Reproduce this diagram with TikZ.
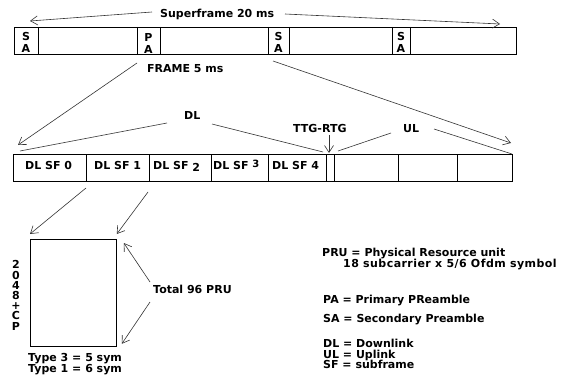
\documentclass[tikz,border=0pt]{standalone}
\usepackage{fontspec}
\setmainfont{DejaVu Sans}
\usetikzlibrary{arrows.meta,positioning}

\begin{document}
\begin{tikzpicture}[x=1pt,y=-1pt,
  txt/.style={font=\bfseries\fontsize{11}{11}\selectfont,inner sep=0pt,anchor=base west},
  stack/.style={font=\bfseries\fontsize{11}{12}\selectfont,inner sep=0pt,align=center},
  thin/.style={line width=0.6pt,black!80},
  arr/.style={thin,-{Straight Barb[length=7pt,width=9pt,line width=0.6pt]}},
  frm/.style={line width=0.8pt}]
  \useasboundingbox (0,0) rectangle (578,377);

  % superframe
  \draw[frm] (14,27) rectangle (516,54);
  \foreach \x in {38,137,160,268,289,392,410}
    \draw[frm] (\x,27) -- (\x,54);
  \node[stack] (sa1) at (26,42) {S\\A};
  \node[stack] (pa)  at (148.5,43) {P\\A};
  \node[stack] (sa2) at (278.5,42) {S\\A};
  \node[stack] (sa3) at (401,42) {S\\A};
  \node[txt] (sftxt) at (160,18) {Superframe 20 ms};
  \coordinate (sfl0) at (152,12); \coordinate (sfl1) at (30,21);
  \coordinate (sfr0) at (285,14); \coordinate (sfr1) at (500,24);
  \draw[arr] (sfl0) -- (sfl1);
  \draw[arr] (sfr0) -- (sfr1);

  % one frame
  \node[txt] (frtxt) at (147,73) {FRAME 5 ms};
  \coordinate (frl0) at (137,63); \coordinate (frl1) at (18,145);
  \coordinate (frr0) at (273,61); \coordinate (frr1) at (511,143);
  \draw[arr] (frl0) -- (frl1);
  \draw[arr] (frr0) -- (frr1);

  % subframes
  \draw[frm] (13,154) rectangle (512,181);
  \foreach \x in {86,149,211,268,326,334,398,457}
    \draw[frm] (\x,154) -- (\x,181);
  \node[txt] (sf0) at (25,169) {DL SF 0};
  \node[txt] (sf1) at (94,169) {DL SF 1};
  \node[txt] (sf2) at (153,169) {DL SF \raisebox{-2.5pt}{2}};
  \node[txt] (sf3) at (213,169) {DL SF \raisebox{2pt}{\fontsize{10}{10}\selectfont 3}};
  \node[txt] (sf4) at (272,169) {DL SF 4};

  % DL / UL / gap
  \node[txt] (dl) at (184,120) {DL};
  \coordinate (dll0) at (167,123); \coordinate (dll1) at (20,151);
  \coordinate (dlr0) at (212,124); \coordinate (dlr1) at (323,152);
  \draw[thin] (dll0) -- (dll1);
  \draw[thin] (dlr0) -- (dlr1);
  \node[txt] (ttg) at (293,132) {TTG-RTG};
  \coordinate (ttg0) at (329,135); \coordinate (ttg1) at (329,153);
  \draw[arr] (ttg0) -- (ttg1);
  \node[txt] (ul) at (403,132) {UL};
  \coordinate (ull0) at (391,133); \coordinate (ull1) at (338,151);
  \coordinate (ulr0) at (434,129); \coordinate (ulr1) at (512,154);
  \draw[thin] (ull0) -- (ull1);
  \draw[thin] (ulr0) -- (ulr1);

  % PRU block
  \node[draw,frm,anchor=north west,minimum width=86pt,minimum height=107pt,inner sep=0pt] (pru) at (30,239) {};
  \coordinate (sbl0) at (86,188); \coordinate (sbr0) at (148,192);
  \draw[arr] (sbl0) -- ([yshift=5pt]pru.north west);
  \draw[arr] (sbr0) -- ([yshift=5pt]pru.north east);
  \node[stack,font=\bfseries\fontsize{11}{10.2}\selectfont] (cp) at (16,295.5) {2\\0\\4\\8\\+\\C\\P};
  \node[txt] (tot) at (153,293) {Total 96 PRU};
  \coordinate (tot0) at (150,282); \coordinate (tot1) at (150,302);
  \draw[arr] (tot0) -- ([shift={(7pt,-4pt)}]pru.north east);
  \draw[arr] (tot1) -- ([shift={(5pt,3pt)}]pru.south east);
  \node[txt] (t3) at (28,361) {Type 3 = 5 sym};
  \node[txt] (t1) at (28,372) {Type 1 = 6 sym};

  % legend
  \node[txt] (lg1) at (322,256) {PRU = Physical Resource unit};
  \node[txt,font=\bfseries\fontsize{11}{11}\selectfont\addfontfeature{LetterSpace=4}] (lg2) at (343,267.5) {18 subcarrier x 5/6 Ofdm symbol};
  \node[txt] (lg3) at (323,303) {PA = Primary PReamble};
  \node[txt] (lg4) at (323,322) {SA = Secondary Preamble};
  \node[txt] (lg5) at (323,347) {DL = Downlink};
  \node[txt] (lg6) at (323,358) {UL = Uplink};
  \node[txt] (lg7) at (323,368) {SF = subframe};
\end{tikzpicture}
\end{document}
